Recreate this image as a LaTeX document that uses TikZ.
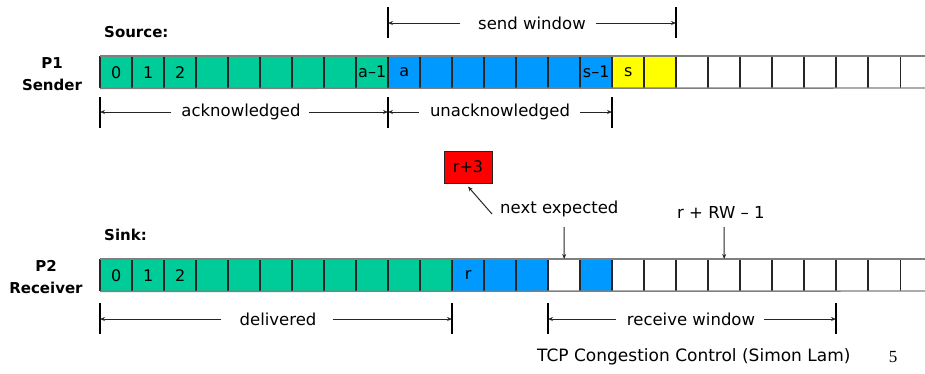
\documentclass[tikz,border=0pt]{standalone}
\usepackage{fontspec}
\setmainfont{DejaVu Sans}
\newfontfamily\pagenumfont{Liberation Serif}
\usetikzlibrary{arrows.meta}
\definecolor{cgreen}{HTML}{00CC99}
\definecolor{cblue}{HTML}{0099FF}
\definecolor{cyellow}{HTML}{FFFF00}
\definecolor{cred}{HTML}{FF0000}
\definecolor{hline}{HTML}{7F7F7F}
\definecolor{vline}{HTML}{262626}
\begin{document}
\begin{tikzpicture}[x=1pt,y=-1pt,
  cell/.style={minimum width=32pt, minimum height=32pt, inner sep=0pt, anchor=north west, font=\fontsize{16}{16}\selectfont},
  lab/.style={font=\fontsize{16.5}{16.5}\selectfont, inner sep=0pt},
  boldlab/.style={font=\fontsize{15}{22}\selectfont\bfseries, inner sep=0pt, align=center},
  dim/.style={line width=1pt, draw=black!85, -{Stealth[length=5pt,width=4pt]}},
  bar/.style={line width=2.2pt},
  hl/.style={draw=hline, line width=1.4pt},
  vl/.style={draw=vline, line width=1.4pt}]
\useasboundingbox (0,0) rectangle (925,373);

% ---------- top row (sender) ----------
\foreach \i/\c/\t in {0/cgreen/0,1/cgreen/1,2/cgreen/2,3/cgreen/{},4/cgreen/{},5/cgreen/{},6/cgreen/{},7/cgreen/{},8/cgreen/a–1,
  9/cblue/a,10/cblue/{},11/cblue/{},12/cblue/{},13/cblue/{},14/cblue/{},15/cblue/s–1,
  16/cyellow/s,17/cyellow/{},18/white/{},19/white/{},20/white/{},21/white/{},22/white/{},23/white/{},24/white/{}}
  \node[cell, fill=\c] (s\i) at ({100+32*\i},56) {\t};
\coordinate (sTR) at (925,56);
\coordinate (sBR) at (925,88);
\foreach \i in {0,...,24} \draw[vl] (s\i.north west) -- (s\i.south west);
\draw[vl] (s24.north east) -- (s24.south east);
\draw[hl] (s0.north west) -- (sTR);
\draw[hl] (s0.south west) -- (sBR);

% ---------- bottom row (receiver) ----------
\foreach \i/\c/\t in {0/cgreen/0,1/cgreen/1,2/cgreen/2,3/cgreen/{},4/cgreen/{},5/cgreen/{},6/cgreen/{},7/cgreen/{},8/cgreen/{},9/cgreen/{},10/cgreen/{},
  11/cblue/r,12/cblue/{},13/cblue/{},14/white/{},15/cblue/{},
  16/white/{},17/white/{},18/white/{},19/white/{},20/white/{},21/white/{},22/white/{},23/white/{},24/white/{}}
  \node[cell, fill=\c] (b\i) at ({100+32*\i},259) {\t};
\coordinate (bTR) at (925,259);
\coordinate (bBR) at (925,291);
\foreach \i in {0,...,24} \draw[vl] (b\i.north west) -- (b\i.south west);
\draw[vl] (b24.north east) -- (b24.south east);
\draw[hl] (b0.north west) -- (bTR);
\draw[hl] (b0.south west) -- (bBR);

% ---------- side labels ----------
\node[boldlab, anchor=west] (src) at (104,32) {Source:};
\node[boldlab] (p1) at (52,74) {P1\\Sender};
\node[boldlab, anchor=west] (sink) at (104,235) {Sink:};
\node[boldlab] (p2) at (46,277) {P2\\Receiver};

% ---------- send window ----------
\coordinate (swL) at (388,23);
\coordinate (swR) at (676,23);
\draw[bar] ([yshift=16pt]swL) -- ([yshift=-15pt]swL);
\draw[bar] ([yshift=16pt]swR) -- ([yshift=-15pt]swR);
\node[lab] (sw) at (532,23) {send window};
\draw[dim] ([xshift=-18pt]sw.west) -- (swL);
\draw[dim] ([xshift=10pt]sw.east) -- (swR);

% ---------- acknowledged / unacknowledged ----------
\coordinate (akL) at (100,112);
\coordinate (akM) at (388,112);
\coordinate (akR) at (612,112);
\draw[bar] ([yshift=15pt]akL) -- ([yshift=-16pt]akL);
\draw[bar] ([yshift=15pt]akM) -- ([yshift=-16pt]akM);
\draw[line width=1.4pt] ([yshift=15pt]akR) -- ([yshift=-16pt]akR);
\node[lab] (ak) at (241,112) {acknowledged};
\draw[dim] ([xshift=-10pt]ak.west) -- (akL);
\draw[dim] ([xshift=8pt]ak.east) -- (akM);
\node[lab] (uak) at (500,112) {unacknowledged};
\draw[dim] ([xshift=-11pt]uak.west) -- (akM);
\draw[dim] ([xshift=10pt]uak.east) -- (akR);

% ---------- next expected ----------
\node[draw=vline, line width=1pt, fill=cred, minimum width=48pt, minimum height=32pt, inner sep=0pt, font=\fontsize{16}{16}\selectfont] (r3) at (468,167) {r+3};
\node[lab, anchor=west] (ne) at (500,209) {next expected};
\coordinate (neA) at (492,214);
\draw[dim] (neA) -- ([yshift=-3pt]r3.south);
\coordinate (neB) at (564,227);
\draw[dim] (neB) -- (b14.north);

\node[lab, anchor=west] (rw) at (677,212) {r + RW – 1};
\coordinate (rwB) at (724,227);
\draw[dim] (rwB) -- (b19.north);

% ---------- delivered / receive window ----------
\coordinate (dlL) at (100,319);
\coordinate (dlR) at (452,319);
\coordinate (rvL) at (548,319);
\coordinate (rvR) at (836,319);
\draw[bar] ([yshift=16pt]dlL) -- ([yshift=-15pt]dlL);
\draw[bar] ([yshift=16pt]dlR) -- ([yshift=-15pt]dlR);
\draw[bar] ([yshift=16pt]rvL) -- ([yshift=-15pt]rvL);
\draw[bar] ([yshift=16pt]rvR) -- ([yshift=-15pt]rvR);
\node[lab] (dl) at (278,319) {delivered};
\draw[dim] ([xshift=-18pt]dl.west) -- (dlL);
\draw[dim] ([xshift=16pt]dl.east) -- (dlR);
\node[lab] (rv) at (691,319) {receive window};
\draw[dim] ([xshift=-11pt]rv.west) -- (rvL);
\draw[dim] ([xshift=9pt]rv.east) -- (rvR);

% ---------- footer ----------
\node[inner sep=0pt, anchor=west, font=\fontsize{17}{17}\selectfont] (ft) at (537,357) {TCP Congestion Control (Simon Lam)};
\node[inner sep=0pt, font=\pagenumfont\fontsize{17}{17}\selectfont] (pg) at (893,357) {5};
\end{tikzpicture}
\end{document}
